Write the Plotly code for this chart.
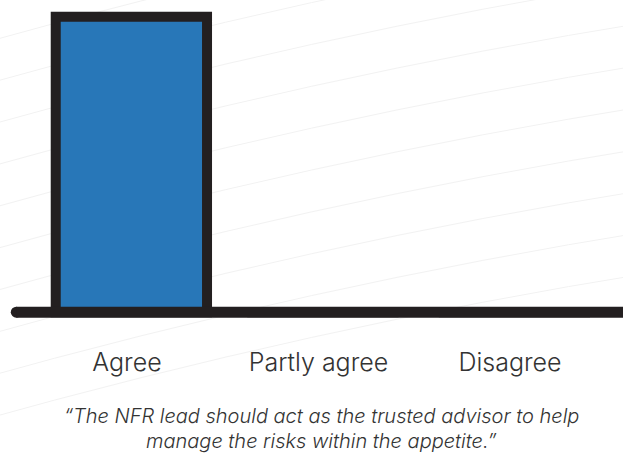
import plotly.graph_objects as go

# Survey responses (share of respondents, %)
categories = ["Agree", "Partly agree", "Disagree"]
shares = [100, 0, 0]
caption_lines = ["\u201cThe NFR lead should act as the trusted advisor to help",
                 "manage the risks within the appetite.\u201d"]

BAR_BLUE = "#2877b8"
INK = "#231f20"
TEXT = "#333333"
FONT = "Inter"

fig = go.Figure()

fig.add_trace(go.Bar(
    x=list(range(len(categories))),
    y=shares,
    width=0.79,
    offset=-0.372,
    marker=dict(color=BAR_BLUE, line=dict(color=INK, width=10)),
    cliponaxis=False,
    hoverinfo="skip",
))

# thick baseline with a rounded left end
x_left, x_right = -0.578, 2.7
fig.add_shape(type="line", xref="x", yref="y", x0=x_left, x1=x_right, y0=0, y1=0,
              line=dict(color=INK, width=11), layer="above")
fig.add_trace(go.Scatter(x=[x_left], y=[0], mode="markers",
                         marker=dict(color=INK, size=11, line=dict(width=0)),
                         cliponaxis=False, hoverinfo="skip"))

# faint sweeping background lines
for i in range(11):
    y0 = 0.05 + i * 0.13
    fig.add_shape(type="path", xref="paper", yref="paper", layer="below",
                  path=f"M -0.05 {y0 - 0.35} Q 0.5 {y0 - 0.05} 1.05 {y0 + 0.12}",
                  line=dict(color="#f2f2f2", width=1))

for line_text, ypos in zip(caption_lines, [-0.2776, -0.3553]):
    fig.add_annotation(text=line_text, xref="paper", yref="paper", x=0.516, y=ypos,
                       xanchor="center", yanchor="middle", showarrow=False,
                       font=dict(family=FONT, size=20, color=TEXT, style="italic", weight=300))

fig.update_layout(
    width=623, height=457,
    margin=dict(l=0, r=0, t=5, b=130),
    paper_bgcolor="white", plot_bgcolor="rgba(0,0,0,0)",
    showlegend=False,
    xaxis=dict(range=[-0.663, 2.59], tickvals=list(range(len(categories))),
               ticktext=categories, showgrid=False, zeroline=False, showline=False,
               ticks="", ticklabelstandoff=18,
               tickfont=dict(family=FONT, size=25, color=TEXT, weight=300)),
    yaxis=dict(range=[-5, 104], visible=False),
)

fig.write_html("out.html")
